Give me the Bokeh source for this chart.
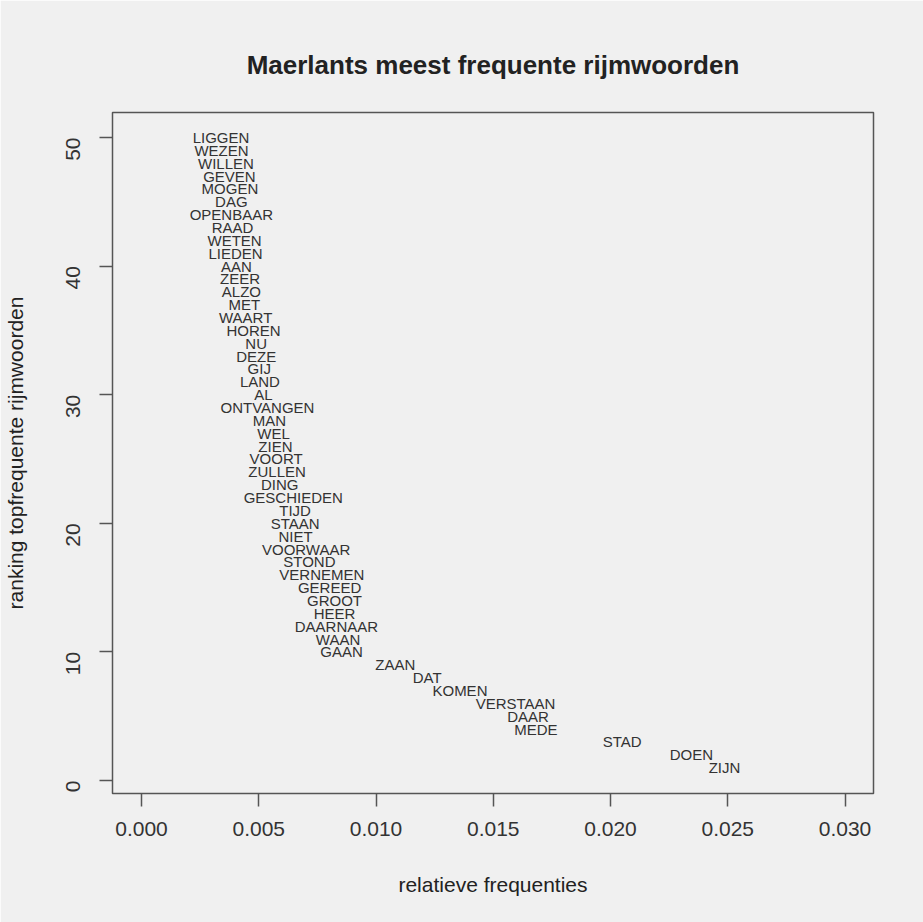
from bokeh.plotting import figure
from bokeh.models import Range1d, ColumnDataSource, FixedTicker
from bokeh.core.properties import value
from bokeh.embed import file_html
from bokeh.resources import INLINE
import math

# Words ranked 1 (most frequent) .. 50
words = ["ZIJN", "DOEN", "STAD", "MEDE", "DAAR", "VERSTAAN", "KOMEN", "DAT", "ZAAN", "GAAN",
         "WAAN", "DAARNAAR", "HEER", "GROOT", "GEREED", "VERNEMEN", "STOND", "VOORWAAR", "NIET", "STAAN",
         "TIJD", "GESCHIEDEN", "DING", "ZULLEN", "VOORT", "ZIEN", "WEL", "MAN", "ONTVANGEN", "AL",
         "LAND", "GIJ", "DEZE", "NU", "HOREN", "WAART", "MET", "ALZO", "ZEER", "AAN",
         "LIEDEN", "WETEN", "RAAD", "OPENBAAR", "DAG", "MOGEN", "GEVEN", "WILLEN", "WEZEN", "LIGGEN"]
ranking = list(range(1, 51))
freq = [0.02486, 0.02345, 0.02050, 0.01682, 0.01648, 0.01595, 0.01358, 0.01218, 0.01082, 0.00853,
        0.00838, 0.00831, 0.00823, 0.00823, 0.00802, 0.00769, 0.00716, 0.00702, 0.00657, 0.00655,
        0.00655, 0.00647, 0.00589, 0.00578, 0.00574, 0.00571, 0.00563, 0.00545, 0.00537, 0.00520,
        0.00505, 0.00502, 0.00489, 0.00489, 0.00478, 0.00444, 0.00438, 0.00426, 0.00420, 0.00405,
        0.00401, 0.00397, 0.00388, 0.00383, 0.00383, 0.00377, 0.00375, 0.00360, 0.00341, 0.00339]

x_ticks = [0.000, 0.005, 0.010, 0.015, 0.020, 0.025, 0.030]
x_tick_labels = ["0.000", "0.005", "0.010", "0.015", "0.020", "0.025", "0.030"]
y_ticks = [0, 10, 20, 30, 40, 50]

title_text = "Maerlants meest frequente rijmwoorden"
x_label = "relatieve frequenties"
y_label = "ranking topfrequente rijmwoorden"

BG = "#f0f0f0"
FONT = "Liberation Sans"

p = figure(width=923, height=922, output_backend="svg", toolbar_location=None,
           x_range=Range1d(-0.001237, 0.031215), y_range=Range1d(-1.011, 51.944),
           min_border_left=112, min_border_right=50, min_border_top=112, min_border_bottom=129,
           title=title_text)

p.background_fill_color = BG
p.border_fill_color = BG
p.outline_line_color = "#555555"
p.outline_line_width = 1.5
p.grid.visible = False

p.title.align = "center"
p.title.text_font = FONT
p.title.text_font_size = "26px"
p.title.text_font_style = "bold"
p.title.text_color = "#222222"
p.title.standoff = 66

src = ColumnDataSource(dict(x=freq, y=ranking, w=words))
p.text(x="x", y="y", text="w", source=src, text_align="center", text_baseline="middle",
       text_font=value(FONT), text_font_size="15px", text_color="#333333")

for ax in (p.xaxis[0], p.yaxis[0]):
    ax.axis_line_color = None
    ax.major_tick_line_color = "#555555"
    ax.major_tick_line_width = 1.5
    ax.major_tick_out = 13
    ax.major_tick_in = 0
    ax.minor_tick_line_color = None
    ax.major_label_text_font = FONT
    ax.major_label_text_font_size = "21px"
    ax.major_label_text_color = "#333333"
    ax.axis_label_text_font = FONT
    ax.axis_label_text_font_size = "21px"
    ax.axis_label_text_font_style = "normal"
    ax.axis_label_text_color = "#222222"

p.xaxis[0].ticker = FixedTicker(ticks=x_ticks)
p.xaxis[0].major_label_overrides = {t: l for t, l in zip(x_ticks, x_tick_labels)}
p.xaxis[0].major_label_standoff = 15
p.xaxis[0].axis_label = x_label
p.xaxis[0].axis_label_standoff = 34

p.yaxis[0].ticker = FixedTicker(ticks=y_ticks)
p.yaxis[0].major_label_orientation = math.pi / 2
p.yaxis[0].major_label_standoff = 26
p.yaxis[0].axis_label = y_label
p.yaxis[0].axis_label_standoff = 30

open("out.html", "w").write(file_html(p, INLINE))
